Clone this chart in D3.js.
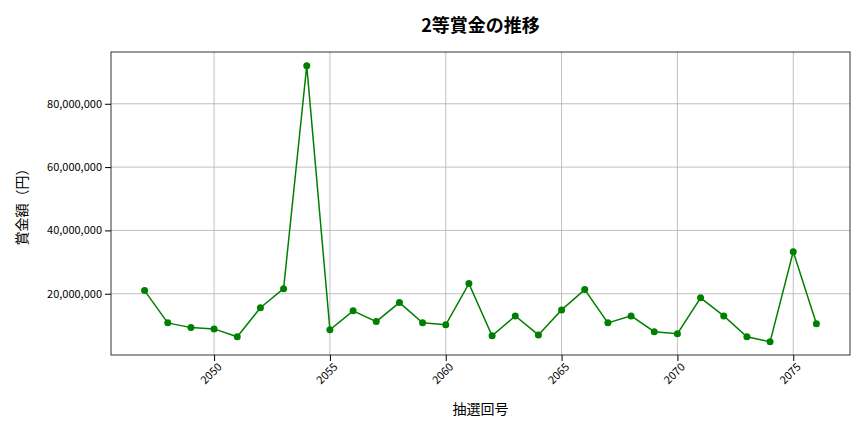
<!DOCTYPE html>
<html><head><meta charset="utf-8">
<script src="https://cdn.jsdelivr.net/npm/d3@7"></script>
<style>body{margin:0;background:#fff}text{font-family:"Noto Sans CJK JP","Noto Sans",sans-serif}</style>
</head><body><svg id="c" width="864" height="432"></svg>
<script>
const draws = [2047,2048,2049,2050,2051,2052,2053,2054,2055,2056,2057,2058,2059,2060,2061,2062,2063,2064,2065,2066,2067,2068,2069,2070,2071,2072,2073,2074,2075,2076];
const prizes = [21.0,10.8,9.3,8.9,6.4,15.6,21.6,92.0,8.6,14.6,11.2,17.2,10.8,10.2,23.2,6.7,13.0,7.0,14.9,21.3,10.8,13.0,8.0,7.4,18.7,13.0,6.4,4.8,33.3,10.5].map(v=>v*1e6);
const xTicks = [2050,2055,2060,2065,2070,2075];
const yTicks = [20e6,40e6,60e6,80e6];

const svg = d3.select("#c");
const L=111,R=850,T=52,B=355;
const x = d3.scaleLinear().domain([2045.55,2077.45]).range([L,R]);
const y = d3.scaleLinear().domain([0.65e6,96.35e6]).range([B,T]);

svg.append("g").selectAll("line").data(xTicks).join("line")
  .attr("x1",d=>x(d)).attr("x2",d=>x(d)).attr("y1",T).attr("y2",B).attr("stroke","#b0b0b0").attr("stroke-width",0.8);
svg.append("g").selectAll("line").data(yTicks).join("line")
  .attr("x1",L).attr("x2",R).attr("y1",d=>y(d)).attr("y2",d=>y(d)).attr("stroke","#b0b0b0").attr("stroke-width",0.8);

const xa = svg.append("g").attr("transform",`translate(0,${B})`)
  .call(d3.axisBottom(x).tickValues(xTicks).tickFormat(d3.format("d")).tickSizeOuter(0));
xa.selectAll("text").attr("font-size",11).attr("text-anchor","end")
  .attr("transform","rotate(-45)").attr("dx","-0.3em").attr("dy","0.5em");
const ya = svg.append("g").attr("transform",`translate(${L},0)`)
  .call(d3.axisLeft(y).tickValues(yTicks).tickFormat(d3.format(",")).tickSizeOuter(0));
ya.selectAll("text").attr("font-size",11);
svg.append("rect").attr("x",L).attr("y",T).attr("width",R-L).attr("height",B-T).attr("fill","none").attr("stroke","#000").attr("stroke-width",0.8);
svg.selectAll(".domain").remove();

const line = d3.line().x((d,i)=>x(draws[i])).y(d=>y(d));
svg.append("path").datum(prizes).attr("d",line).attr("fill","none").attr("stroke","green").attr("stroke-width",1.5);
svg.append("g").selectAll("circle").data(prizes).join("circle")
  .attr("cx",(d,i)=>x(draws[i])).attr("cy",d=>y(d)).attr("r",3.5).attr("fill","green");

svg.append("text").attr("x",(L+R)/2).attr("y",32).attr("text-anchor","middle").attr("font-size",18).attr("font-weight","bold").text("2等賞金の推移");
svg.append("text").attr("x",(L+R)/2).attr("y",414).attr("text-anchor","middle").attr("font-size",14).text("抽選回号");
svg.append("text").attr("transform",`translate(27,${(T+B)/2}) rotate(-90)`).attr("text-anchor","middle").attr("font-size",14).text("賞金額（円）");
</script></body></html>
